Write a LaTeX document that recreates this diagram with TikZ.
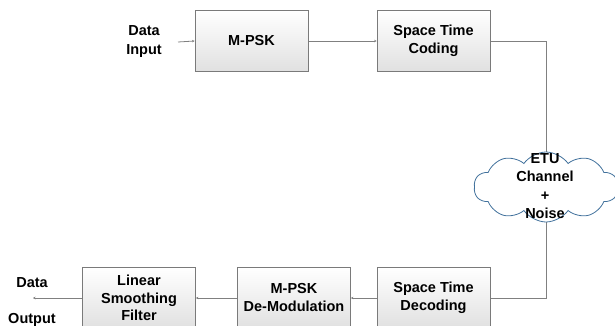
\documentclass[tikz,border=0pt]{standalone}
\usepackage{fontspec}
\setmainfont{Liberation Sans}
\usetikzlibrary{shapes.symbols,arrows.meta}
\pgfdeclarelayer{bg}
\pgfsetlayers{bg,main}
\definecolor{linegray}{HTML}{808080}
\definecolor{boxedge}{HTML}{7A7A7A}
\definecolor{cloudblue}{HTML}{41719C}
\begin{document}
\begin{tikzpicture}[x=1pt,y=-1pt,
  blk/.style={draw=boxedge,line width=0.8pt,top color=white,bottom color=black!12,
    minimum width=113pt,minimum height=61pt,inner sep=0pt,align=center,
    font=\fontsize{14.5}{18}\selectfont\bfseries},
  lbl/.style={inner sep=0pt,align=center,font=\fontsize{14.5}{19}\selectfont\bfseries},
  conn/.style={draw=linegray,line width=0.8pt,-{Stealth[length=2.5pt,width=2.5pt]}},
  plain/.style={draw=linegray,line width=0.8pt},
  cloudshape/.style={cloud,cloud puffs=10,cloud puff arc=110,cloud ignores aspect,draw=cloudblue,line width=0.8pt,fill=white,
    minimum width=144pt,minimum height=70pt,inner sep=0pt}]
\useasboundingbox (0,0) rectangle (615,326);
% top row
\node[blk] (mpsk) at (251.5,41) {M-PSK};
\node[blk] (stc) at (433.5,41) {Space Time\\Coding};
\node[lbl] (din) at (144,42) {Data\\Input};
\coordinate (inend) at (178,42);
% cloud
\node[cloudshape] (cloud) at (546,187) {};
\node[lbl,font=\fontsize{14.5}{18.3}\selectfont\bfseries] (cloudtxt) at (545,186) {ETU\\Channel\\+\\Noise};
% bottom row
\node[blk] (std) at (433.5,298) {Space Time\\Decoding};
\node[blk] (demod) at (294,298) {M-PSK\\De-Modulation};
\node[blk,font=\fontsize{14.5}{17.5}\selectfont\bfseries] (lsf) at (139,298) {Linear\\Smoothing\\Filter};
\node[lbl] (dout1) at (32,283) {Data};
\node[lbl] (dout2) at (32,320) {Output};
\coordinate (outend) at (33,298);
% connectors
\begin{pgfonlayer}{bg}
\draw[conn] (inend) -- (mpsk.west);
\draw[conn] (mpsk.east) -- (stc.west);
\draw[plain] (stc.east) -| (cloud.center);
\draw[plain] (cloud.center) |- (std.east);
\draw[conn] (std.west) -- (demod.east);
\draw[conn] (demod.west) -- (lsf.east);
\draw[conn] (lsf.west) -- (outend);
\end{pgfonlayer}
\end{tikzpicture}
\end{document}
